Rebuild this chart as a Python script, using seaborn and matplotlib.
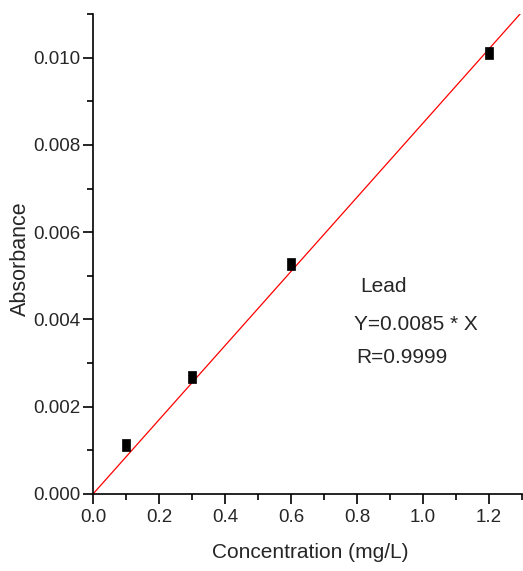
import matplotlib
matplotlib.use("Agg")
import matplotlib.pyplot as plt
import seaborn as sns
import numpy as np
import pandas as pd
from matplotlib.ticker import MultipleLocator, FormatStrFormatter

conc = [0.1, 0.3, 0.6, 1.2]
absorb = [0.00112, 0.00268, 0.00527, 0.01011]
slope = 0.0085
fit_x = [0.0, 1.3]
labels = ["Lead", "Y=0.0085 * X", "R=0.9999"]

sns.set_theme(style="ticks")
plt.rcParams['font.family'] = ['Liberation Sans Narrow', 'Liberation Sans', 'DejaVu Sans']

fig = plt.figure(figsize=(5.23, 5.71), dpi=100)
ax = fig.add_axes([93/523, 1-494/571, (522-93)/523, (494-14)/571])

df = pd.DataFrame({"x": conc, "y": absorb})
fit = pd.DataFrame({"x": fit_x, "y": [slope * v for v in fit_x]})
sns.lineplot(data=fit, x="x", y="y", ax=ax, color="red", linewidth=0.9)
rect = [(-0.33, -0.5), (0.33, -0.5), (0.33, 0.5), (-0.33, 0.5), (-0.33, -0.5)]
sns.scatterplot(data=df, x="x", y="y", ax=ax, marker=rect, s=70, color="black",
                edgecolor="black", linewidth=0.5, zorder=5)

ax.set_xlim(0, 1.3)
ax.set_ylim(0, 0.011)
ax.xaxis.set_major_locator(MultipleLocator(0.2))
ax.xaxis.set_minor_locator(MultipleLocator(0.1))
ax.yaxis.set_major_locator(MultipleLocator(0.002))
ax.yaxis.set_minor_locator(MultipleLocator(0.001))
ax.xaxis.set_major_formatter(FormatStrFormatter('%.1f'))
ax.yaxis.set_major_formatter(FormatStrFormatter('%.3f'))
ax.tick_params(which='major', length=7, width=1.2, labelsize=13.5, color='black', direction='out')
ax.tick_params(which='minor', length=4, width=1.2, color='black', direction='out')
ax.tick_params(axis='y', which='major', pad=2)
for s in ['top', 'right']:
    ax.spines[s].set_visible(False)
for s in ['left', 'bottom']:
    ax.spines[s].set_linewidth(1.2)
    ax.spines[s].set_color('black')

ax.set_xlabel("Concentration (mg/L)", fontsize=15)
ax.set_ylabel("Absorbance", fontsize=15.5)
ax.xaxis.set_label_coords((310-93)/(522-93), (494-552)/(494-14))
ax.yaxis.set_label_coords((20-93)/(522-93), (494-259)/(494-14))
ax.xaxis.label.set_va('center')
ax.yaxis.label.set_va('center')

ax.text(0.811, 0.00462, labels[0], fontsize=15, ha='left', va='baseline')
ax.text(0.790, 0.00376, labels[1], fontsize=15, ha='left', va='baseline')
ax.text(0.799, 0.00300, labels[2], fontsize=15, ha='left', va='baseline')

fig.savefig("out.png", dpi=100)
